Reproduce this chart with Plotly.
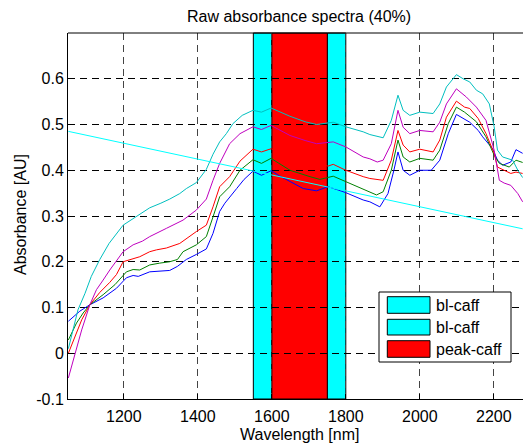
import plotly.graph_objects as go

# ---------------- data ----------------
blue_x = [1050, 1081, 1108, 1144, 1180, 1207, 1225, 1239, 1270, 1300, 1324, 1345, 1369, 1396, 1423, 1441, 1459, 1473, 1486, 1505, 1525, 1549, 1572, 1598, 1620, 1649, 1685, 1721, 1752, 1775, 1800, 1847, 1865, 1892, 1914, 1930, 1941, 1955, 1973, 2000, 2031, 2054, 2077, 2099, 2117, 2135, 2158, 2170, 2197, 2210, 2224, 2246, 2260, 2278]
blue_y = [0.070, 0.092, 0.106, 0.121, 0.142, 0.165, 0.170, 0.168, 0.178, 0.180, 0.181, 0.190, 0.205, 0.216, 0.228, 0.262, 0.310, 0.328, 0.342, 0.360, 0.380, 0.398, 0.389, 0.399, 0.388, 0.375, 0.360, 0.355, 0.364, 0.358, 0.351, 0.335, 0.331, 0.320, 0.349, 0.400, 0.440, 0.400, 0.389, 0.400, 0.400, 0.422, 0.480, 0.522, 0.513, 0.505, 0.487, 0.473, 0.447, 0.422, 0.411, 0.418, 0.445, 0.437]

green_x = [1050, 1072, 1090, 1108, 1144, 1176, 1207, 1225, 1243, 1270, 1297, 1324, 1345, 1360, 1396, 1423, 1441, 1459, 1486, 1514, 1549, 1572, 1598, 1649, 1703, 1730, 1766, 1800, 1847, 1883, 1901, 1923, 1941, 1955, 1973, 2000, 2036, 2054, 2077, 2099, 2121, 2153, 2179, 2201, 2215, 2242, 2260, 2278]
green_y = [0.029, 0.066, 0.088, 0.106, 0.128, 0.150, 0.178, 0.183, 0.182, 0.193, 0.197, 0.200, 0.205, 0.222, 0.237, 0.255, 0.298, 0.342, 0.364, 0.400, 0.423, 0.415, 0.426, 0.400, 0.386, 0.380, 0.387, 0.375, 0.357, 0.346, 0.353, 0.400, 0.466, 0.429, 0.418, 0.426, 0.422, 0.444, 0.502, 0.538, 0.527, 0.506, 0.473, 0.433, 0.415, 0.407, 0.422, 0.417]

red_x = [1050, 1068, 1086, 1108, 1135, 1162, 1180, 1198, 1225, 1243, 1270, 1288, 1315, 1351, 1396, 1423, 1441, 1459, 1486, 1514, 1549, 1572, 1598, 1650, 1700, 1752, 1766, 1800, 1847, 1865, 1901, 1923, 1941, 1955, 1973, 2000, 2036, 2054, 2072, 2099, 2121, 2135, 2158, 2179, 2201, 2210, 2228, 2246, 2260, 2278]
red_y = [0.000, 0.036, 0.073, 0.106, 0.133, 0.155, 0.172, 0.200, 0.207, 0.211, 0.222, 0.226, 0.230, 0.240, 0.266, 0.280, 0.320, 0.364, 0.386, 0.420, 0.446, 0.440, 0.447, 0.432, 0.420, 0.409, 0.413, 0.400, 0.386, 0.382, 0.378, 0.422, 0.487, 0.455, 0.440, 0.446, 0.440, 0.466, 0.516, 0.551, 0.538, 0.535, 0.513, 0.480, 0.437, 0.407, 0.400, 0.393, 0.396, 0.393]

magenta_x = [1050, 1068, 1086, 1108, 1126, 1144, 1162, 1198, 1225, 1250, 1270, 1315, 1360, 1396, 1423, 1441, 1459, 1486, 1514, 1549, 1572, 1598, 1649, 1690, 1721, 1766, 1800, 1847, 1865, 1885, 1901, 1923, 1941, 1955, 1973, 2000, 2036, 2054, 2072, 2099, 2126, 2153, 2179, 2201, 2215, 2228, 2246, 2265, 2278]
magenta_y = [-0.054, 0.000, 0.051, 0.106, 0.139, 0.160, 0.182, 0.222, 0.237, 0.245, 0.255, 0.273, 0.291, 0.313, 0.337, 0.378, 0.415, 0.458, 0.480, 0.495, 0.489, 0.498, 0.476, 0.465, 0.458, 0.462, 0.451, 0.429, 0.425, 0.418, 0.422, 0.458, 0.531, 0.494, 0.480, 0.487, 0.484, 0.505, 0.545, 0.578, 0.560, 0.538, 0.509, 0.444, 0.378, 0.372, 0.367, 0.349, 0.331]

cyan_x = [1050, 1063, 1076, 1095, 1112, 1135, 1160, 1198, 1225, 1250, 1270, 1300, 1324, 1351, 1369, 1396, 1423, 1441, 1459, 1477, 1495, 1520, 1549, 1572, 1598, 1649, 1690, 1721, 1766, 1800, 1847, 1865, 1901, 1923, 1941, 1955, 1973, 2000, 2036, 2054, 2072, 2099, 2117, 2135, 2153, 2170, 2188, 2201, 2210, 2224, 2251, 2265, 2278]
cyan_y = [0.010, 0.055, 0.095, 0.131, 0.168, 0.205, 0.240, 0.280, 0.295, 0.308, 0.318, 0.328, 0.337, 0.349, 0.360, 0.373, 0.402, 0.435, 0.462, 0.480, 0.502, 0.520, 0.531, 0.527, 0.536, 0.518, 0.506, 0.500, 0.505, 0.495, 0.484, 0.478, 0.471, 0.509, 0.564, 0.531, 0.520, 0.527, 0.524, 0.545, 0.582, 0.609, 0.600, 0.593, 0.575, 0.567, 0.545, 0.495, 0.444, 0.429, 0.422, 0.400, 0.384]

baseline_x = [1050, 2278]
baseline_y = [0.485, 0.272]

band_names = ["bl-caff", "bl-caff", "peak-caff"]
band_lo = [1550, 1750, 1600]
band_hi = [1600, 1800, 1750]
band_colors = ["#00FFFF", "#00FFFF", "#FF0000"]

x_ticks = [1200, 1400, 1600, 1800, 2000, 2200]
y_ticks = [-0.1, 0, 0.1, 0.2, 0.3, 0.4, 0.5, 0.6]
y_tick_text = ["-0.1", "0", "0.1", "0.2", "0.3", "0.4", "0.5", "0.6"]

# ---------------- figure ----------------
W, H = 523, 444
L, T, B, R = 68, 33, 45, 0
FONT = "Liberation Sans, Arial, Helvetica, sans-serif"

fig = go.Figure()

series = [
    (blue_x, blue_y, "#0000FF"),
    (green_x, green_y, "#008000"),
    (red_x, red_y, "#FF0000"),
    (cyan_x, cyan_y, "#00BFBF"),
    (magenta_x, magenta_y, "#BF00BF"),
]
for xs, ys, c in series:
    fig.add_trace(go.Scatter(x=xs, y=ys, mode="lines",
                             line=dict(color=c, width=1), showlegend=False,
                             hoverinfo="skip"))
fig.add_trace(go.Scatter(x=baseline_x, y=baseline_y, mode="lines",
                         line=dict(color="#00FFFF", width=1), showlegend=False,
                         hoverinfo="skip"))

shapes = []
for lo, hi, c in zip(band_lo, band_hi, band_colors):
    shapes.append(dict(type="rect", xref="x", yref="paper", x0=lo, x1=hi, y0=0, y1=1,
                       fillcolor=c, line=dict(color="#000000", width=1), layer="between"))

# top border of axes
shapes.append(dict(type="line", xref="paper", yref="paper", x0=0, x1=1, y0=1, y1=1,
                   line=dict(color="#000000", width=1), layer="above"))

pw = W - L - R
ph = H - T - B
def px(xp):
    return (xp - L) / pw
def py(yp):
    return (H - B - yp) / ph

# manual legend
shapes.append(dict(type="rect", xref="paper", yref="paper",
                   x0=px(379), x1=px(511), y0=py(362), y1=py(292),
                   fillcolor="#FFFFFF", line=dict(color="#000000", width=1), layer="above"))
annotations = []
rows = [(296.7, 313.3), (319.3, 335.0), (340.7, 357.3)]
legend_order = [0, 1, 2]
for (r0, r1), i in zip(rows, legend_order):
    shapes.append(dict(type="rect", xref="paper", yref="paper",
                       x0=px(387.3), x1=px(430), y0=py(r1), y1=py(r0),
                       fillcolor=band_colors[i], line=dict(color="#000000", width=1),
                       layer="above"))
    annotations.append(dict(x=px(434), y=py((r0 + r1) / 2), xref="paper", yref="paper",
                            text=band_names[i], showarrow=False, xanchor="left",
                            yanchor="middle", font=dict(size=16, color="#000000", family=FONT)))

annotations.append(dict(x=px(299), y=py(434), xref="paper", yref="paper",
                        text="Wavelength [nm]", showarrow=False, xanchor="center",
                        yanchor="middle", font=dict(size=16, color="#000000", family=FONT)))
annotations.append(dict(x=px(20), y=py(215), xref="paper", yref="paper",
                        text="Absorbance [AU]", showarrow=False, textangle=-90,
                        xanchor="center", yanchor="middle",
                        font=dict(size=16, color="#000000", family=FONT)))
annotations.append(dict(x=px(299), y=py(17), xref="paper", yref="paper",
                        text="Raw absorbance spectra (40%)", showarrow=False,
                        xanchor="center", yanchor="middle",
                        font=dict(size=16, color="#000000", family=FONT)))

fig.update_layout(
    width=W, height=H,
    margin=dict(l=L, r=R, t=T, b=B, pad=0),
    paper_bgcolor="#FFFFFF", plot_bgcolor="#FFFFFF",
    font=dict(family=FONT, size=16, color="#000000"),
    shapes=shapes, annotations=annotations,
    showlegend=False,
)
fig.update_xaxes(range=[1049, 2279], tickvals=x_ticks, ticktext=[str(v) for v in x_ticks],
                 showgrid=True, gridcolor="#444444", griddash="7px,5px", gridwidth=1,
                 showline=True, linecolor="#000000", linewidth=1, mirror=False,
                 zeroline=False, ticks="inside", ticklen=5, tickcolor="#000000",
                 ticklabelstandoff=3, tickfont=dict(size=16, family=FONT))
fig.update_yaxes(range=[-0.1, 0.7], tickvals=y_ticks, ticktext=y_tick_text,
                 showgrid=True, gridcolor="#000000", griddash="7px,5px", gridwidth=1,
                 showline=True, linecolor="#000000", linewidth=1, mirror=False,
                 zeroline=False, ticks="inside", ticklen=5, tickcolor="#000000",
                 tickfont=dict(size=16, family=FONT))

fig.write_html("out.html")
